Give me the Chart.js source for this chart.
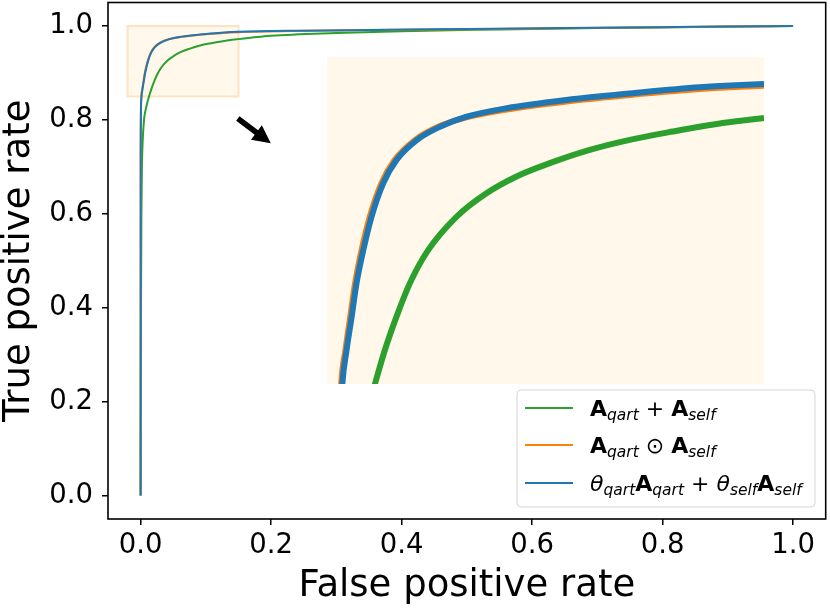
<!DOCTYPE html>
<html>
<head>
<meta charset="utf-8">
<script src="https://cdn.jsdelivr.net/npm/chart.js@4.4.1/dist/chart.umd.min.js"></script>
<style>
  body { margin: 0; background: #fff; }
  #wrap { position: relative; width: 830px; height: 609px; }
  #mainBox { position: absolute; left: 0; top: 0; width: 830px; height: 609px; }
  #insetBox { position: absolute; left: 327px; top: 57px; width: 437px; height: 327px; }
</style>
</head>
<body>
<div id="wrap">
  <div id="mainBox"><canvas id="mainChart"></canvas></div>
  <div id="insetBox"><canvas id="insetChart"></canvas></div>
</div>
<script>
// ROC curves
const fprGreen = [0, 0.0002, 0.0006, 0.0012, 0.002, 0.003, 0.0052, 0.0075, 0.0108, 0.0129, 0.0164, 0.0205, 0.0252, 0.0317, 0.0417, 0.0522, 0.0628, 0.0745, 0.0886, 0.1027, 0.1178, 0.1354, 0.15, 0.2, 0.3, 0.4, 0.55, 0.7, 0.85, 1.0];
const tprGreen = [0, 0.2, 0.4, 0.6, 0.7, 0.75, 0.8, 0.82, 0.84, 0.85, 0.8656, 0.8809, 0.8962, 0.9115, 0.9268, 0.9375, 0.9452, 0.9513, 0.9574, 0.962, 0.9658, 0.9697, 0.972, 0.979, 0.985, 0.989, 0.9925, 0.9955, 0.998, 1.0];

const fprOrange = [0, 0.0001, 0.0002, 0.0004, 0.0007, 0.001, 0.0025, 0.0042, 0.0059, 0.0082, 0.0111, 0.0152, 0.0199, 0.027, 0.0352, 0.0448, 0.0593, 0.0804, 0.1038, 0.1273, 0.15, 0.25, 0.35, 0.5, 0.65, 0.8, 0.9, 1.0];
const tprOrange = [0, 0.72, 0.785, 0.82, 0.84, 0.85, 0.8656, 0.8809, 0.8962, 0.9115, 0.9268, 0.9421, 0.9528, 0.9619, 0.968, 0.9722, 0.9759, 0.9796, 0.9827, 0.9853, 0.9868, 0.9896, 0.9912, 0.9932, 0.9953, 0.9973, 0.9988, 1.0];

const fprBlue = [0, 0.0001, 0.0002, 0.0004, 0.0008, 0.0014, 0.0029, 0.0047, 0.0064, 0.0088, 0.0117, 0.0158, 0.0205, 0.0276, 0.0358, 0.0452, 0.0593, 0.0804, 0.1038, 0.1273, 0.15, 0.25, 0.35, 0.5, 0.65, 0.8, 0.9, 1.0];
const tprBlue = [0, 0.7, 0.77, 0.81, 0.835, 0.85, 0.8656, 0.8809, 0.8962, 0.9115, 0.9268, 0.9421, 0.9528, 0.9619, 0.968, 0.9726, 0.9765, 0.9803, 0.9834, 0.9861, 0.9876, 0.99, 0.9915, 0.9935, 0.9955, 0.9975, 0.999, 1.0];

const xTicks = [0, 0.2, 0.4, 0.6, 0.8, 1.0];
const yTicks = [0, 0.2, 0.4, 0.6, 0.8, 1.0];

// zoomed window shown in the inset
const zoomX = [-0.02, 0.15];
const zoomY = [0.85, 1.0];
const insetX = [-0.004, 0.15];

const GREEN = '#2ca02c', ORANGE = '#ff7f0e', BLUE = '#1f77b4';
const FONT = '"DejaVu Sans", sans-serif';

// legend labels as rich text pieces: b = bold, s = italic subscript, r = regular, i = italic
const legendRich = [
  [['b', 'A'], ['s', 'qart'], ['r', ' + '], ['b', 'A'], ['s', 'self']],
  [['b', 'A'], ['s', 'qart'], ['r', ' \u2299 '], ['b', 'A'], ['s', 'self']],
  [['i', '\u03b8'], ['s', 'qart'], ['b', 'A'], ['s', 'qart'], ['r', ' + '], ['i', '\u03b8'], ['s', 'self'], ['b', 'A'], ['s', 'self']]
];
const legendColors = [GREEN, ORANGE, BLUE];

function toPoints(xs, ys) {
  return xs.map((x, i) => ({x: x, y: ys[i]}));
}

function makeDatasets(width, clip) {
  const base = {pointRadius: 0, borderWidth: width, fill: false, cubicInterpolationMode: 'monotone', clip: clip};
  return [
    Object.assign({label: 'green', data: toPoints(fprGreen, tprGreen), borderColor: GREEN, order: 3}, base),
    Object.assign({label: 'orange', data: toPoints(fprOrange, tprOrange), borderColor: ORANGE, order: 2}, base),
    Object.assign({label: 'blue', data: toPoints(fprBlue, tprBlue), borderColor: BLUE, order: 1}, base)
  ];
}

const decorPlugin = {
  id: 'decor',
  beforeDatasetsDraw(chart) {
    const {ctx, scales: {x, y}} = chart;
    const x0 = x.getPixelForValue(zoomX[0]), x1 = x.getPixelForValue(zoomX[1]);
    const y0 = y.getPixelForValue(zoomY[1]), y1 = y.getPixelForValue(zoomY[0]);
    ctx.save();
    ctx.fillStyle = '#fff8eb';
    ctx.fillRect(x0, y0, x1 - x0, y1 - y0);
    ctx.strokeStyle = '#fde2c4';
    ctx.lineWidth = 2;
    ctx.strokeRect(x0, y0, x1 - x0, y1 - y0);
    ctx.restore();
  },
  afterDatasetsDraw(chart) {
    const {ctx, chartArea: a, scales: {x, y}} = chart;
    ctx.save();
    // arrow pointing to the inset
    const tx = x.getPixelForValue(0.149), ty = y.getPixelForValue(0.803);
    const hx = x.getPixelForValue(0.1995), hy = y.getPixelForValue(0.750);
    const ang = Math.atan2(hy - ty, hx - tx);
    const len = Math.hypot(hx - tx, hy - ty);
    ctx.translate(tx, ty);
    ctx.rotate(ang);
    ctx.fillStyle = '#000';
    ctx.beginPath();
    ctx.moveTo(0, -2.8);
    ctx.lineTo(len - 18, -2.8);
    ctx.lineTo(len - 18, -9);
    ctx.lineTo(len, 0);
    ctx.lineTo(len - 18, 9);
    ctx.lineTo(len - 18, 2.8);
    ctx.lineTo(0, 2.8);
    ctx.closePath();
    ctx.fill();
    ctx.restore();

    // frame
    ctx.save();
    ctx.strokeStyle = '#000';
    ctx.lineWidth = 1.6;
    ctx.strokeRect(a.left, a.top, a.right - a.left, a.bottom - a.top);
    ctx.restore();

    // legend
    ctx.save();
    const bx = 517, by = 390, bw = 298, bh = 117;
    ctx.beginPath();
    ctx.roundRect(bx, by, bw, bh, 4);
    ctx.fillStyle = 'rgba(255,255,255,0.8)';
    ctx.fill();
    ctx.strokeStyle = '#d5d5d5';
    ctx.lineWidth = 1;
    ctx.stroke();
    const rowsY = [408, 445, 483];
    legendRich.forEach((pieces, k) => {
      const ly = rowsY[k];
      ctx.strokeStyle = legendColors[k];
      ctx.lineWidth = 2;
      ctx.beginPath();
      ctx.moveTo(525, ly);
      ctx.lineTo(573, ly);
      ctx.stroke();
      let px = 590;
      const base = ly + 8;
      ctx.fillStyle = '#000';
      ctx.textBaseline = 'alphabetic';
      ctx.textAlign = 'left';
      pieces.forEach(([kind, txt]) => {
        let dy = 0;
        if (kind === 'b') ctx.font = 'bold 22px ' + FONT;
        else if (kind === 'i') ctx.font = 'italic 22px ' + FONT;
        else if (kind === 's') { ctx.font = 'italic 15.5px ' + FONT; dy = 4; }
        else ctx.font = '22px ' + FONT;
        ctx.fillText(txt, px, base + dy);
        px += ctx.measureText(txt).width;
      });
    });
    ctx.restore();
  }
};

const tickFont = {family: FONT, size: 27.5};
const titleFont = {family: FONT, size: 37, lineHeight: 1};

function noPad(s) {
  s.paddingTop = 0; s.paddingBottom = 0; s.paddingLeft = 0; s.paddingRight = 0;
}

new Chart(document.getElementById('mainChart'), {
  type: 'line',
  data: {datasets: makeDatasets(2, undefined)},
  options: {
    responsive: true,
    maintainAspectRatio: false,
    animation: false,
    layout: {padding: {left: 0, top: 2.5, right: 4.3, bottom: 0}},
    plugins: {legend: {display: false}, tooltip: {enabled: false}},
    scales: {
      x: {
        type: 'linear', min: -0.05, max: 1.05,
        afterBuildTicks: s => { s.ticks = xTicks.map(v => ({value: v})); },
        afterFit: s => { s.height = 90; noPad(s); },
        ticks: {callback: v => v.toFixed(1), font: tickFont, color: '#000', padding: 4.5, maxRotation: 0, autoSkip: false},
        grid: {drawOnChartArea: false, tickLength: 6, color: '#000', lineWidth: 1.5},
        border: {display: false},
        title: {display: true, text: 'False positive rate', font: titleFont, color: '#000', padding: {top: 0, bottom: 4.5}}
      },
      y: {
        type: 'linear', min: -0.05, max: 1.05,
        afterBuildTicks: s => { s.ticks = yTicks.map(v => ({value: v})); },
        afterFit: s => { s.width = 108; noPad(s); },
        ticks: {callback: v => v.toFixed(1), font: tickFont, color: '#000', padding: 9, autoSkip: false},
        grid: {drawOnChartArea: false, tickLength: 6, color: '#000', lineWidth: 1.5},
        border: {display: false},
        title: {display: true, text: 'True positive rate', font: titleFont, color: '#000', padding: {top: 1, bottom: 0}}
      }
    }
  },
  plugins: [decorPlugin]
});

const insetBg = {
  id: 'insetBg',
  beforeDraw(chart) {
    const {ctx, chartArea: a} = chart;
    ctx.save();
    ctx.fillStyle = '#fff8eb';
    ctx.fillRect(a.left, a.top, a.right - a.left, a.bottom - a.top);
    ctx.restore();
  }
};

new Chart(document.getElementById('insetChart'), {
  type: 'line',
  data: {datasets: makeDatasets(6, 0)},
  options: {
    responsive: true,
    maintainAspectRatio: false,
    animation: false,
    layout: {padding: 0},
    plugins: {legend: {display: false}, tooltip: {enabled: false}},
    scales: {
      x: {type: 'linear', min: insetX[0], max: insetX[1], display: false},
      y: {type: 'linear', min: zoomY[0], max: zoomY[1], display: false}
    }
  },
  plugins: [insetBg]
});
</script>
</body>
</html>
